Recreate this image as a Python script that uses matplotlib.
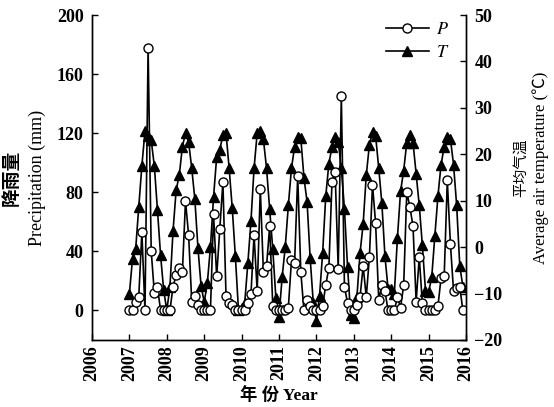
import matplotlib
matplotlib.use("Agg")
import matplotlib.pyplot as plt
import numpy as np

# monthly series, Jan 2007 .. Dec 2015
years = list(range(2007, 2016))

precip = [
    0, 0, 6, 9, 53, 0, 178, 40, 12, 16, 0, 0,        # 2007
    0, 0, 16, 24, 29, 26, 74, 51, 6, 10, 4, 0,       # 2008
    0, 0, 0, 65, 23, 55, 87, 10, 5, 4, 0, 0,         # 2009
    0, 0, 5, 11, 51, 13, 82, 26, 30, 57, 3, 0,       # 2010
    0, 0, 0, 2, 34, 32, 91, 26, 0, 7, 3, 0,          # 2011
    0, 0, 3, 17, 29, 87, 94, 28, 145, 16, 5, 0,      # 2012
    0, 4, 9, 30, 9, 36, 85, 59, 7, 17, 13, 0,        # 2013
    0, 0, 9, 2, 17, 80, 70, 57, 6, 36, 5, 0,         # 2014
    0, 0, 0, 3, 22, 23, 88, 45, 13, 15, 16, 0,       # 2015
]

temp = [
    -10, -2.5, -0.5, 8.6, 17.5, 25, 24, 23, 17.5, 8, -1.7, -9.3,
    -13.6, -8.6, 3.5, 12.3, 15.5, 21.6, 24.6, 22.6, 17, 10.3, -0.2, -8.4,
    -11.8, -7.8, 0, 10.8, 19.4, 21, 24.1, 24.6, 17, 8.4, -2, -13.6,
    -13, -12, -3.5, 5.6, 17, 24.6, 25, 23.2, 17, 8.2, -0.4, -11,
    -15, -6.5, 0, 9, 17, 21.6, 23.7, 23.5, 15, 9.8, -2.4, -12,
    -16, -10.5, -1.3, 11, 18, 21.5, 23.8, 22.7, 17, 8.2, -4.3, -14.6,
    -15.3, -10.7, -1.3, 5, 15.5, 22, 24.8, 24, 17, 9.5, -2, -9,
    -9, -10, 2, 12, 16.5, 22.5, 24.1, 22.5, 15.8, 9, 0.4, -9.4,
    -9.7, -6.5, 2.4, 11, 17.8, 21.6, 23.8, 23.3, 17.8, 9, -4, -8.5,
]

x_ticks = list(range(2006, 2017))
p_ticks = [0, 40, 80, 120, 160, 200]
t_ticks = [-20, -10, 0, 10, 20, 30, 40, 50]

serif = ['Liberation Serif', 'Noto Sans CJK SC']
plt.rcParams['font.family'] = serif
plt.rcParams['mathtext.fontset'] = 'stix'

t = np.array([y + m / 12 for y in years for m in range(12)])

fig = plt.figure(figsize=(5.54, 4.07), dpi=100)
ax = fig.add_axes([92 / 554, 67 / 407, 374 / 554, 325 / 407])
ax2 = ax.twinx()

# precipitation drawn above temperature
ax.set_zorder(ax2.get_zorder() + 1)
ax.patch.set_visible(False)

lt, = ax2.plot(t, temp, '-^', color='black', lw=1.2, ms=7.5,
               mfc='black', mec='black', label='T')
lp, = ax.plot(t, precip, '-o', color='black', lw=1.2, ms=6.5,
              mfc='white', mec='black', mew=1.0, label='P')

ax.set_xlim(2006, 2016)
ax.set_ylim(-20, 200)
ax2.set_ylim(-20, 50)
ax.set_xticks(x_ticks)
ax.set_xticklabels([str(v) for v in x_ticks], rotation=90)
ax.set_yticks(p_ticks)
ax2.set_yticks(t_ticks)
ax2.set_yticklabels(['\u221220', '\u221210', '0', '10', '20', '30', '40', '50'])

for a in (ax, ax2):
    a.spines['top'].set_visible(False)
    for s in a.spines.values():
        s.set_linewidth(1.0)
    a.tick_params(direction='in', length=4, width=1.0, labelsize=13)
    for lab in a.get_xticklabels() + a.get_yticklabels():
        lab.set_fontweight('bold')

ax.tick_params(axis='y', pad=6)
ax2.tick_params(axis='y', pad=6)

# axis titles
fig.text(12 / 554, 1 - 178 / 407, '降雨量', rotation=90, ha='center', va='center',
         fontsize=13.5, fontweight='bold', family=serif)
fig.text(37 / 554, 1 - 178 / 407, 'Precipitation (mm)', rotation=90,
         ha='center', va='center', fontsize=13, family=serif)
fig.text(521 / 554, 1 - 168 / 407, '平均气温', rotation=90, ha='center', va='center',
         fontsize=10.5, family=serif)
fig.text(541 / 554, 1 - 168 / 407, 'Average air temperature (\u2103)', rotation=90,
         ha='center', va='center', fontsize=12, family=serif)
fig.text(279 / 554, 1 - 396 / 407, '年 份 Year', ha='center', va='center',
         fontsize=12.5, fontweight='bold', family=serif)

leg = ax.legend([lp, lt], ['$P$', '$T$'], loc='upper right',
                bbox_to_anchor=(1.0, 1.03), frameon=False, fontsize=13,
                handlelength=2.4, handletextpad=0.4, labelspacing=0.3)

fig.savefig('out.png', dpi=100)
